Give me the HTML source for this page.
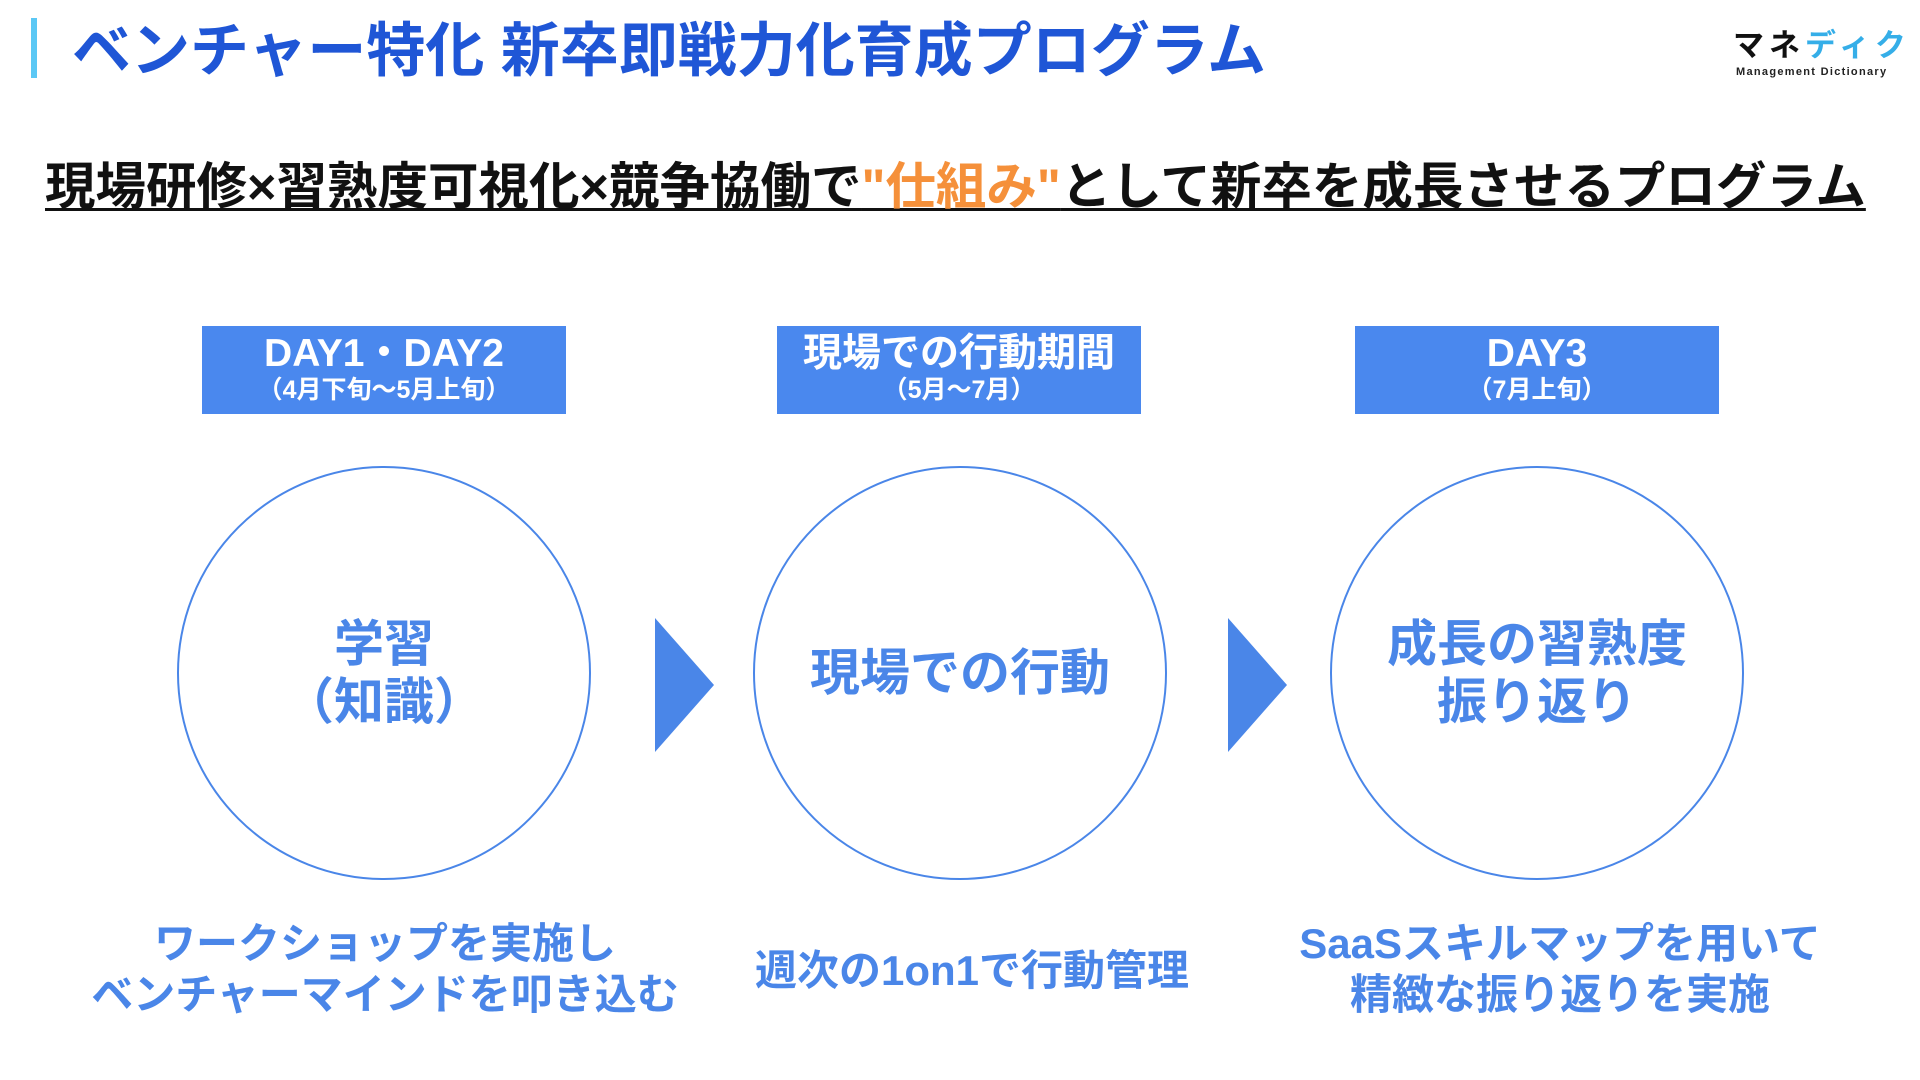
<!DOCTYPE html>
<html><head><meta charset="utf-8"><style>
*{margin:0;padding:0;box-sizing:border-box}
body{width:1920px;height:1080px;background:#fff;position:relative;overflow:hidden;font-family:"Liberation Sans","Noto Sans CJK JP",sans-serif;font-weight:bold}
.a{position:absolute;white-space:nowrap}
.hb{position:absolute;top:326px;width:364px;height:88px;background:#4a88ee;color:#fff;text-align:center}
.hb .t{font-size:39px;line-height:42px;margin-top:7px}
.hb .s{font-size:25px;line-height:30px}
.c{position:absolute;top:466px;width:414px;height:414px;border:2px solid #4a86e8;border-radius:50%;display:flex;align-items:center;justify-content:center;text-align:center;color:#4a86e8;font-size:50px;line-height:58px}
.b{position:absolute;top:918px;width:700px;text-align:center;color:#4a86e8;font-size:42px;line-height:51px}
</style></head><body>
<div class="a" style="left:31px;top:18px;width:6px;height:60px;background:#5bc8f5"></div>
<div class="a" style="left:72px;top:17px;font-size:59px;line-height:68px;color:#1f56d6">ベンチャー特化 新卒即戦力化育成プログラム</div>
<div class="a" style="left:1733px;top:26px;font-size:31px;line-height:40px;letter-spacing:5px;color:#111">マネ<span style="color:#35aee8">ディク</span></div>
<div class="a" style="left:1736px;top:66px;font-size:11px;letter-spacing:1.3px;color:#222">Management Dictionary</div>
<div class="a" style="left:45px;top:157px;font-size:50.5px;line-height:60px;color:#111;text-decoration:underline;text-decoration-thickness:3px;text-underline-offset:4px">現場研修×習熟度可視化×競争協働で<span style="color:#f5903a">"仕組み"</span>として新卒を成長させるプログラム</div>
<div class="hb" style="left:202px"><div class="t">DAY1・DAY2</div><div class="s">（4月下旬〜5月上旬）</div></div>
<div class="hb" style="left:777px"><div class="t">現場での行動期間</div><div class="s">（5月〜7月）</div></div>
<div class="hb" style="left:1355px"><div class="t">DAY3</div><div class="s">（7月上旬）</div></div>
<div class="c" style="left:177px"><div>学習<br>（知識）</div></div>
<div class="c" style="left:753px"><div>現場での行動</div></div>
<div class="c" style="left:1330px"><div>成長の習熟度<br>振り返り</div></div>
<svg class="a" style="left:0;top:0" width="1920" height="1080"><polygon points="655,618 714,685 655,752" fill="#4a86e8"/><polygon points="1228,618 1287,685 1228,752" fill="#4a86e8"/></svg>
<div class="b" style="left:35px">ワークショップを実施し<br>ベンチャーマインドを叩き込む</div>
<div class="b" style="left:622px;top:945px">週次の1on1で行動管理</div>
<div class="b" style="left:1210px">SaaSスキルマップを用いて<br>精緻な振り返りを実施</div>
</body></html>
